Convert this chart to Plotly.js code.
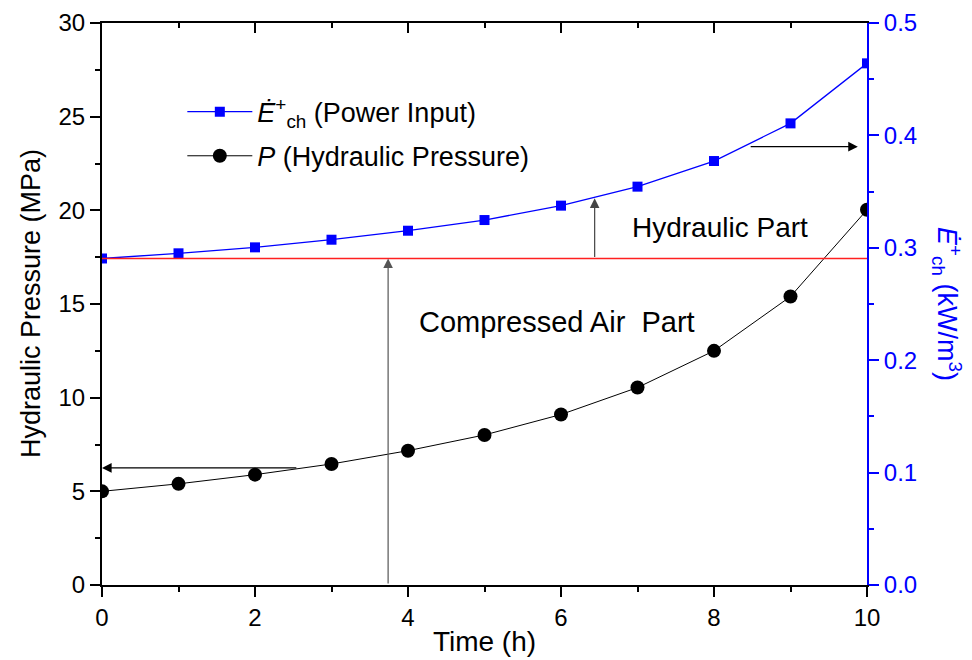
<!DOCTYPE html>
<html>
<head>
<meta charset="utf-8">
<script src="https://cdn.plot.ly/plotly-3.0.1.min.js"></script>
<style>html,body{margin:0;padding:0;background:#fff}</style>
</head>
<body>
<div id="chart" style="width:972px;height:660px"></div>
<script>
const timeH = [0, 1, 2, 3, 4, 5, 6, 7, 8, 9, 10];
const pressureMPa = [5.0, 5.4, 5.89, 6.46, 7.17, 8.01, 9.1, 10.54, 12.5, 15.4, 20.03];
const powerInput = [0.2905, 0.2951, 0.3004, 0.3072, 0.3152, 0.3247, 0.3375, 0.3544, 0.3772, 0.4107, 0.4641];
const baseLevel = 0.2905;   // red line, right axis units
const baseLevelLeft = 17.43; // same level, left axis units

const FONT = "Liberation Sans, Arial, sans-serif";
const BLUE = "#0000ff";

const traces = [
  {
    x: timeH, y: powerInput, yaxis: "y2", type: "scatter", mode: "lines+markers",
    name: "<i>Ė</i><sup>+</sup><sub>ch</sub> (Power Input)", legendgroup: "a",
    line: {color: BLUE, width: 1.3},
    marker: {symbol: "square", size: 10, color: BLUE}
  },
  {
    x: timeH, y: pressureMPa, yaxis: "y", type: "scatter", mode: "lines+markers",
    name: "<i>P</i> (Hydraulic Pressure)", legendgroup: "b",
    line: {color: "#000", width: 1},
    marker: {symbol: "circle", size: 14, color: "#000"}
  },
  {
    x: [0, 10], y: [0, 0], xaxis: "x2", yaxis: "y", type: "scatter", mode: "lines",
    showlegend: false, hoverinfo: "skip", line: {width: 0, color: "rgba(0,0,0,0)"}
  }
];

function arrow(x, y, ax, ay, yref, color) {
  return {x: x, y: y, ax: ax, ay: ay, xref: "x", yref: yref, axref: "x", ayref: yref,
    text: "", showarrow: true, arrowhead: 2, arrowsize: 1.6, arrowwidth: 1.2,
    arrowcolor: color || "#000", standoff: 0};
}

const layout = {
  width: 972, height: 660,
  margin: {l: 102, r: 105, t: 23, b: 75},
  paper_bgcolor: "#fff", plot_bgcolor: "#fff",
  font: {family: FONT, size: 24, color: "#000"},
  showlegend: true,
  legend: {x: 0.105, y: 0.885, xanchor: "left", yanchor: "top",
    bgcolor: "rgba(0,0,0,0)", font: {family: FONT, size: 27, color: "#000"},
    itemwidth: 65, tracegroupgap: 6},
  xaxis: {
    range: [0, 10], dtick: 2, tick0: 0, showgrid: false, zeroline: false,
    showline: true, linecolor: "#000", linewidth: 2,
    ticks: "outside", ticklen: 10, tickwidth: 2, tickcolor: "#000",
    minor: {dtick: 1, ticklen: 5, tickwidth: 2, tickcolor: "#000", ticks: "outside", showgrid: false},
    tickfont: {size: 24},
    title: {text: "Time (h)", font: {size: 28}, standoff: 2},
    automargin: false
  },
  xaxis2: {
    overlaying: "x", side: "top", anchor: "y", range: [0, 10], dtick: 2,
    showgrid: false, zeroline: false, showline: true, linecolor: "#000", linewidth: 2,
    ticks: "inside", ticklen: 10, tickwidth: 2, tickcolor: "#000",
    minor: {dtick: 1, ticklen: 5, tickwidth: 2, tickcolor: "#000", ticks: "inside", showgrid: false},
    showticklabels: false
  },
  yaxis: {
    range: [0, 30], dtick: 5, showgrid: false, zeroline: false,
    showline: true, linecolor: "#000", linewidth: 2,
    ticks: "outside", ticklen: 10, tickwidth: 2, tickcolor: "#000",
    minor: {dtick: 2.5, ticklen: 5, tickwidth: 2, tickcolor: "#000", ticks: "outside", showgrid: false},
    tickfont: {size: 24}, automargin: false
  },
  yaxis2: {
    overlaying: "y", side: "right", anchor: "x", range: [0, 0.5], dtick: 0.1, tickformat: ".1f",
    showgrid: false, zeroline: false, showline: true, linecolor: BLUE, linewidth: 2,
    ticks: "outside", ticklen: 10, tickwidth: 2, tickcolor: BLUE,
    minor: {dtick: 0.05, ticklen: 5, tickwidth: 2, tickcolor: BLUE, ticks: "outside", showgrid: false},
    tickfont: {size: 24, color: BLUE}, automargin: false
  },
  shapes: [
    {type: "line", xref: "x", yref: "y2", x0: 0, x1: 10, y0: baseLevel, y1: baseLevel,
     line: {color: "#ff2020", width: 1.6}}
  ],
  annotations: [
    {xref: "paper", yref: "paper", x: -0.115, y: 0.5, text: "Hydraulic Pressure (MPa)",
     textangle: -90, showarrow: false, font: {size: 27, color: "#000"}},
    {xref: "paper", yref: "paper", x: 1.132, y: 0.5,
     text: "<i>Ė</i><sup>+</sup><sub>ch</sub> (kW/m<sup>3</sup>)",
     textangle: 90, showarrow: false, font: {size: 27, color: BLUE}},
    {xref: "x", yref: "y", x: 8.08, y: 19.07, text: "Hydraulic Part", showarrow: false,
     font: {size: 28, color: "#000"}},
    {xref: "x", yref: "y", x: 5.95, y: 14.05, text: "Compressed Air\u00a0 Part", showarrow: false,
     font: {size: 29, color: "#000"}},
    arrow(0, 6.25, 2.56, 6.25, "y"),
    arrow(9.88, 0.39, 8.46, 0.39, "y2"),
    arrow(6.44, 0.344, 6.44, baseLevel, "y2", "#444"),
    arrow(3.74, baseLevelLeft, 3.74, 0, "y", "#555")
  ]
};

Plotly.newPlot("chart", traces, layout, {displayModeBar: false, staticPlot: true});
</script>
</body>
</html>
